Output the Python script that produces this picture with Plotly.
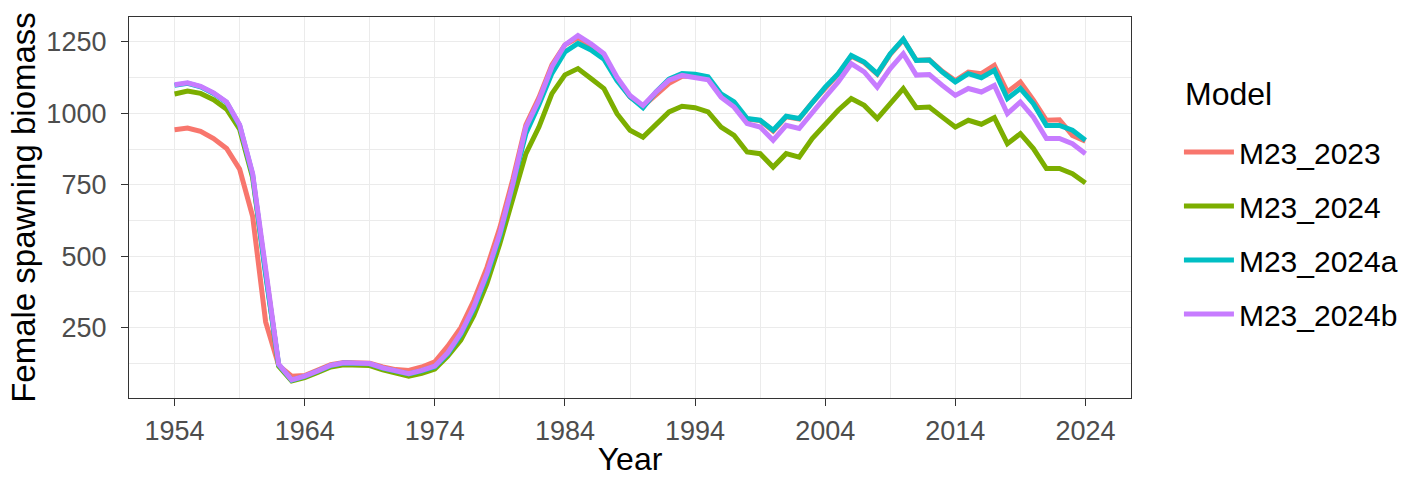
import plotly.graph_objects as go

years = list(range(1954, 2025))

m23_2023 = [943, 949, 937, 912, 877, 805, 640, 270, 118, 80,
            82, 100, 120, 128, 128, 125, 112, 103, 100, 112,
            130, 185, 250, 345, 460, 600, 770, 960, 1055, 1170,
            1240, 1265, 1235, 1200, 1120, 1058, 1025, 1068, 1105, 1130,
            1130, 1122, 1065, 1035, 980, 975, 938, 988, 980, 1038,
            1090, 1137, 1200, 1178, 1137, 1207, 1258, 1186, 1188, 1147,
            1115, 1145, 1139, 1168, 1075, 1110, 1046, 976, 978, 923,
            903]

m23_2024 = [1068, 1078, 1070, 1048, 1015, 945, 775, 430, 115, 63,
            75, 93, 112, 120, 120, 117, 102, 90, 80, 90,
            105, 150, 206, 293, 404, 544, 707, 859, 952, 1069,
            1135, 1157, 1122, 1087, 999, 941, 917, 964, 1005, 1025,
            1020, 1005, 952, 923, 865, 859, 812, 859, 847, 912,
            964, 1011, 1052, 1028, 982, 1034, 1087, 1020, 1022, 987,
            952, 976, 962, 985, 894, 929, 877, 807, 807, 789,
            756]

m23_2024a = [1098, 1105, 1093, 1070, 1038, 958, 785, 435, 120, 66,
             79, 97, 117, 126, 126, 123, 108, 96, 88, 99,
             113, 158, 225, 315, 430, 570, 745, 930, 1030, 1140,
             1215, 1245, 1222, 1190, 1115, 1058, 1020, 1075, 1120, 1140,
             1137, 1128, 1068, 1040, 982, 976, 941, 990, 982, 1040,
             1092, 1139, 1203, 1180, 1139, 1209, 1260, 1185, 1187, 1145,
             1110, 1139, 1125, 1151, 1052, 1087, 1034, 958, 958, 941,
             906]

m23_2024b = [1100, 1107, 1095, 1072, 1040, 960, 790, 440, 122, 67,
             80, 98, 118, 127, 127, 124, 109, 97, 89, 100,
             115, 162, 230, 322, 439, 579, 754, 952, 1046, 1163,
             1240, 1273, 1244, 1209, 1127, 1063, 1028, 1075, 1116, 1133,
             1127, 1118, 1057, 1022, 964, 952, 906, 958, 947, 1005,
             1057, 1110, 1174, 1145, 1092, 1157, 1209, 1134, 1136, 1098,
             1063, 1087, 1075, 1098, 999, 1040, 987, 912, 912, 894,
             859]

model_names = ["M23_2023", "M23_2024", "M23_2024a", "M23_2024b"]
model_values = [m23_2023, m23_2024, m23_2024a, m23_2024b]
model_colors = ["#F8766D", "#7CAE00", "#00BFC4", "#C77CFF"]

x_ticks = list(range(1954, 2025, 10))
y_ticks = [250, 500, 750, 1000, 1250]

fig = go.Figure()
for name, vals, col in zip(model_names, model_values, model_colors):
    fig.add_trace(go.Scatter(
        x=years, y=vals, mode="lines", name=name, legendgroup=name,
        line=dict(color=col, width=5),
    ))

FONT = "Liberation Sans, Arial, Helvetica, sans-serif"

fig.update_layout(
    width=1401, height=477,
    margin=dict(l=129, r=270, t=17, b=79, autoexpand=False),
    paper_bgcolor="white", plot_bgcolor="white",
    font=dict(family=FONT, color="black"),
    showlegend=True,
    legend=dict(
        font=dict(size=30, color="black"),
        xref="container", yref="container",
        x=0.8415, xanchor="left", y=0.736, yanchor="top",
        tracegroupgap=12, itemwidth=50,
        bgcolor="rgba(0,0,0,0)",
    ),
    annotations=[dict(
        text="Model", xref="paper", yref="paper",
        x=1.052, y=0.797, xanchor="left", yanchor="middle",
        showarrow=False, font=dict(size=32, color="black"),
    )],
    xaxis=dict(
        automargin=False,
        range=[1950.5, 2027.5],
        tickmode="array", tickvals=x_ticks, ticktext=[str(v) for v in x_ticks],
        ticks="outside", ticklen=7, tickwidth=1.3, tickcolor="#333333",
        tickfont=dict(size=27, color="#4D4D4D"),
        ticklabelstandoff=1,
        showgrid=True, gridcolor="#EBEBEB", gridwidth=1.4,
        minor=dict(tickmode="linear", tick0=1954, dtick=5, showgrid=True,
                   gridcolor="#EBEBEB", gridwidth=0.7, ticks=""),
        zeroline=False,
        showline=True, mirror=True, linecolor="#333333", linewidth=1.3,
        title=dict(text="Year", font=dict(size=32, color="black"), standoff=4),
    ),
    yaxis=dict(
        automargin=False,
        range=[3.5, 1337.5],
        tickmode="array", tickvals=y_ticks, ticktext=[str(v) for v in y_ticks],
        ticks="outside", ticklen=7, tickwidth=1.3, tickcolor="#333333",
        tickfont=dict(size=27, color="#4D4D4D"),
        ticklabelstandoff=9,
        showgrid=True, gridcolor="#EBEBEB", gridwidth=1.4,
        minor=dict(tickmode="linear", tick0=125, dtick=250, showgrid=True,
                   gridcolor="#EBEBEB", gridwidth=0.7, ticks=""),
        zeroline=False,
        showline=True, mirror=True, linecolor="#333333", linewidth=1.3,
        title=dict(text="Female spawning biomass", font=dict(size=33, color="black"), standoff=0),
    ),
)

fig.write_html("out.html")
